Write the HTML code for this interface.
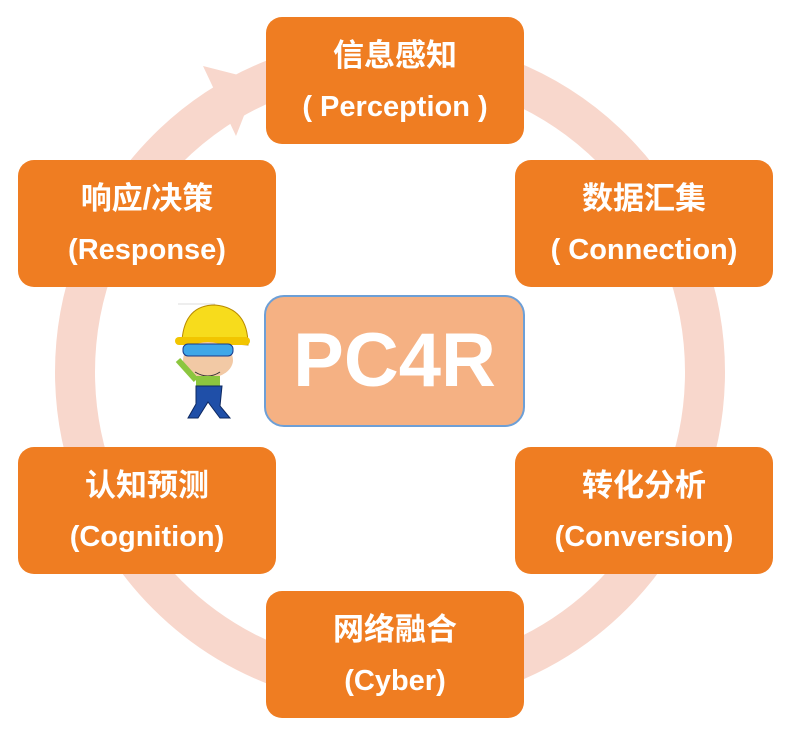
<!DOCTYPE html>
<html><head><meta charset="utf-8"><style>
body{margin:0;width:807px;height:756px;background:#fff;overflow:hidden;position:relative;font-family:"Liberation Sans","Noto Sans CJK SC",sans-serif}
.b{position:absolute;width:258px;height:127px;background:#ef7d22;border-radius:16px;color:#fff;font-weight:bold;font-size:29px;text-align:center;line-height:50px;box-sizing:border-box;padding-top:14px}
.b span{font-size:31px}
.c{position:absolute;left:264px;top:295px;width:261px;height:132px;background:#f5b183;border:2px solid #6d9fd6;border-radius:20px;box-sizing:border-box;color:#fff;font-weight:bold;font-size:76px;text-align:center;line-height:128px}
</style></head><body>
<svg width="807" height="756" style="position:absolute;left:0;top:0">
<circle cx="390" cy="372" r="315" fill="none" stroke="#f8d7cc" stroke-width="40"/>
<polygon points="203,66 258,80 236,136" fill="#f8d7cc"/>
<g>
<line x1="178" y1="304" x2="215" y2="304" stroke="#ddd"/>
<path d="M182 340 Q185 305 215 305 Q248 308 248 345 Z" fill="#f7dc1c" stroke="#b88a00"/>
<rect x="175" y="337" width="75" height="8" rx="4" fill="#f2c500"/>
<ellipse cx="208" cy="360" rx="25" ry="18" fill="#f2c9a5"/>
<rect x="183" y="344" width="50" height="12" rx="5" fill="#3fa7e8" stroke="#1a3a8a"/>
<path d="M195 372 Q208 380 220 372" stroke="#333" fill="none"/>
<rect x="196" y="376" width="24" height="14" fill="#8cc63f"/>
<line x1="196" y1="380" x2="178" y2="360" stroke="#8cc63f" stroke-width="6"/>
<path d="M196 386 L222 386 L220 406 L230 418 L220 418 L208 402 L198 418 L188 418 L196 404 Z" fill="#1f4fa8" stroke="#0d2860"/>
</g>
</svg>
<div class="b" style="left:266px;top:17px"><span>信息感知</span><br>( Perception )</div>
<div class="b" style="left:18px;top:160px"><span>响应/决策</span><br>(Response)</div>
<div class="b" style="left:515px;top:160px"><span>数据汇集</span><br>( Connection)</div>
<div class="b" style="left:18px;top:447px"><span>认知预测</span><br>(Cognition)</div>
<div class="b" style="left:515px;top:447px"><span>转化分析</span><br>(Conversion)</div>
<div class="b" style="left:266px;top:591px"><span>网络融合</span><br>(Cyber)</div>
<div class="c">PC4R</div>
</body></html>
